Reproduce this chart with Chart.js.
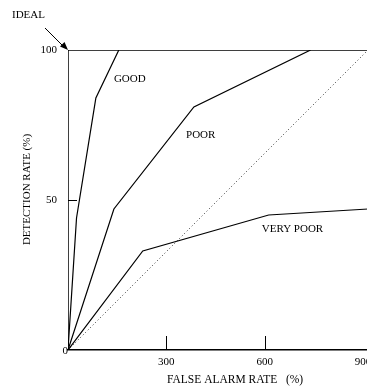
<!DOCTYPE html>
<html><head><meta charset="utf-8">
<script src="https://cdn.jsdelivr.net/npm/chart.js@4/dist/chart.umd.min.js"></script>
<style>
html,body{margin:0;padding:0;background:#fff;overflow:hidden;}
#wrap{width:367px;height:387px;overflow:hidden;position:relative;background:#fff;}
canvas{display:block;}
</style></head><body>
<div id="wrap"><canvas id="c" width="420" height="387" style="width:420px;height:387px"></canvas></div>
<script>
// ---- data ----
const xTicks = [0, 300, 600, 900];
const yTicks = [0, 50, 100];
const curveNames = ['GOOD', 'POOR', 'VERY POOR'];
const goodX = [0, 26, 85, 155];
const goodY = [0, 44, 84, 100];
const poorX = [0, 140, 384, 740];
const poorY = [0, 47, 81, 100];
const veryPoorX = [0, 228, 612, 915];
const veryPoorY = [0, 33, 45, 47];
const chanceX = [0, 915];
const chanceY = [0, 100];
const idealX = [0, 0, 915];
const idealY = [0, 100, 100];

const pts = (xs, ys) => xs.map((x, i) => ({x: x, y: ys[i]}));
const FONT = '"Liberation Serif", "Times New Roman", serif';

const labelPlugin = {
  id: 'labels',
  afterDraw(chart) {
    const ctx = chart.ctx;
    const xs = chart.scales.x, ys = chart.scales.y;
    const X = v => xs.getPixelForValue(v), Y = v => ys.getPixelForValue(v);
    const x0 = X(0), y0 = Y(0), yTop = Y(100);
    ctx.save();
    ctx.strokeStyle = '#000';
    ctx.fillStyle = '#000';
    // inward tick marks
    ctx.lineWidth = 1;
    xTicks.filter(v => v > 0 && v < 900).forEach(v => {
      const px = Math.round(X(v)) + 0.5;
      ctx.beginPath(); ctx.moveTo(px, y0); ctx.lineTo(px, y0 - 14); ctx.stroke();
    });
    yTicks.filter(v => v > 0 && v < 100).forEach(v => {
      const py = Math.round(Y(v)) + 0.5;
      ctx.beginPath(); ctx.moveTo(x0, py); ctx.lineTo(x0 + 9, py); ctx.stroke();
    });
    // origin label
    ctx.font = '11px ' + FONT;
    ctx.textAlign = 'right'; ctx.textBaseline = 'middle';
    ctx.fillText('0', x0, y0 + 1);
    // curve labels
    ctx.textAlign = 'left';
    ctx.fillText(curveNames[0], X(140), Y(90.3));
    ctx.fillText(curveNames[1], X(360), Y(71.7));
    ctx.fillText(curveNames[2], X(591), Y(40.3));
    // IDEAL label and arrow
    ctx.fillText('IDEAL', x0 - 56, yTop - 34.5);
    ctx.lineWidth = 1;
    ctx.beginPath(); ctx.moveTo(x0 - 23, yTop - 22); ctx.lineTo(x0 - 4, yTop - 3); ctx.stroke();
    ctx.beginPath();
    ctx.moveTo(x0, yTop);
    ctx.lineTo(x0 - 8, yTop - 3.5);
    ctx.lineTo(x0 - 3.5, yTop - 8);
    ctx.closePath(); ctx.fill();
    // axis titles
    ctx.font = '11.5px ' + FONT;
    ctx.textAlign = 'left'; ctx.textBaseline = 'middle';
    ctx.fillText('FALSE ALARM RATE   (%)', x0 + 99, 380);
    ctx.font = '11px ' + FONT;
    ctx.translate(27, 189.5);
    ctx.rotate(-Math.PI / 2);
    ctx.textAlign = 'center';
    ctx.fillText('DETECTION RATE (%)', 0, 0);
    ctx.restore();
  }
};

const lineDs = (data, extra) => Object.assign({
  data: data, showLine: true, pointRadius: 0, borderColor: '#000',
  borderWidth: 1.2, tension: 0, fill: false
}, extra || {});

new Chart(document.getElementById('c'), {
  type: 'scatter',
  data: {
    datasets: [
      lineDs(pts(idealX, idealY), {borderWidth: 1.5}),
      lineDs(pts(goodX, goodY)),
      lineDs(pts(poorX, poorY)),
      lineDs(pts(veryPoorX, veryPoorY)),
      lineDs(pts(chanceX, chanceY), {borderWidth: 1, borderDash: [1, 2.5], borderColor: '#333'})
    ]
  },
  options: {
    responsive: false,
    animation: false,
    layout: {padding: {top: 50, right: 52, left: 0, bottom: 0}},
    plugins: {legend: {display: false}, tooltip: {enabled: false}},
    scales: {
      x: {
        type: 'linear', min: 0, max: 915,
        afterBuildTicks: s => { s.ticks = xTicks.map(v => ({value: v})); },
        afterFit: s => { s.height = 37; },
        grid: {display: false, drawTicks: false},
        border: {display: true, color: '#000', width: 1.5},
        ticks: {
          autoSkip: false, maxRotation: 0, padding: 6, color: '#000',
          font: {family: FONT, size: 11},
          callback: v => v === 0 ? '' : String(v)
        }
      },
      y: {
        type: 'linear', min: 0, max: 100,
        afterBuildTicks: s => { s.ticks = yTicks.map(v => ({value: v})); },
        afterFit: s => { s.width = 68; },
        grid: {display: false, drawTicks: false},
        border: {display: false},
        ticks: {
          autoSkip: false, padding: 11, color: '#000',
          font: {family: FONT, size: 11},
          callback: v => v === 0 ? '' : String(v)
        }
      }
    }
  },
  plugins: [labelPlugin]
});
</script>
</body></html>
